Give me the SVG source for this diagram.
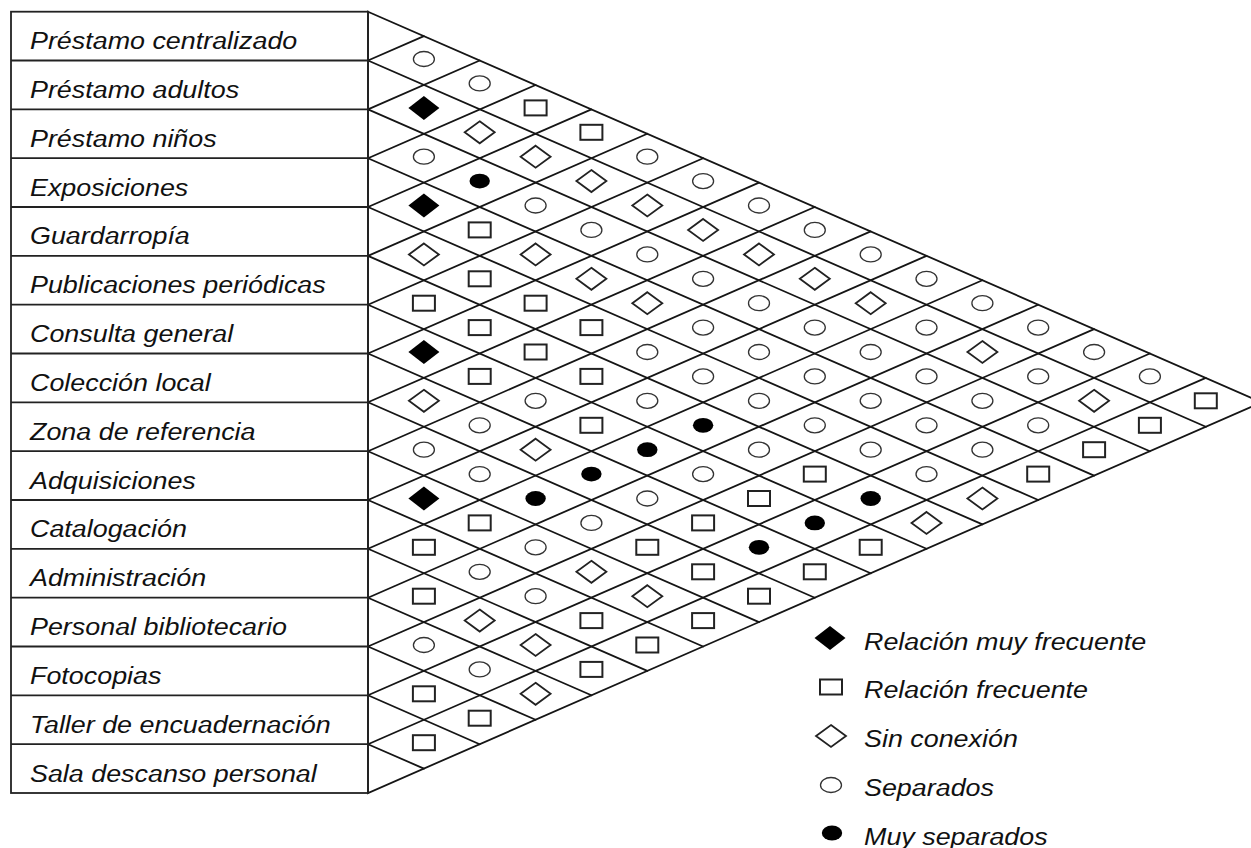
<svg xmlns="http://www.w3.org/2000/svg" xmlns:xlink="http://www.w3.org/1999/xlink" width="1251" height="848" viewBox="0 0 1251 848">
<style>
.lbl{font-family:"Liberation Sans",Arial,sans-serif;font-style:italic;font-size:24px;fill:#111}
.grid{stroke:#151515;stroke-width:1.8;fill:none;stroke-linecap:round}
.tbl{stroke:#222;stroke-width:1.8;fill:none}
</style>
<defs>
<ellipse id="oc" cx="0" cy="0" rx="10.5" ry="7.5" fill="#fff" stroke="#333" stroke-width="1.3"/>
<ellipse id="fc" cx="0" cy="0" rx="10.2" ry="7.4" fill="#000"/>
<rect id="sq" x="-11" y="-7.5" width="22" height="15" fill="#fff" stroke="#222" stroke-width="2"/>
<polygon id="od" points="0,-11 15,0 0,11 -15,0" fill="#fff" stroke="#222" stroke-width="1.8"/>
<polygon id="fd" points="0,-12 15.5,0 0,12 -15.5,0" fill="#000"/>
</defs>
<rect width="1251" height="848" fill="#fff"/>

<g id="connectors" class="grid">
<polygon points="368,11.7 1261.6,402.3 368,793"/>
<path d="M368,60.5L1205.8,426.8 M368,109.4L1149.9,451.2 M368,158.2L1094.1,475.6 M368,207L1038.2,500 M368,255.9L982.4,524.4 M368,304.7L926.5,548.8 M368,353.5L870.7,573.3 M368,402.3L814.8,597.7 M368,451.2L759,622.1 M368,500L703.1,646.5 M368,548.8L647.3,670.9 M368,597.7L591.4,695.3 M368,646.5L535.6,719.7 M368,695.3L479.7,744.2 M368,744.2L423.9,768.6"/>
<path d="M368,60.5L423.9,36.1 M368,109.4L479.7,60.5 M368,158.2L535.6,85 M368,207L591.4,109.4 M368,255.9L647.3,133.8 M368,304.7L703.1,158.2 M368,353.5L759,182.6 M368,402.3L814.8,207 M368,451.2L870.7,231.4 M368,500L926.5,255.9 M368,548.8L982.4,280.3 M368,597.7L1038.2,304.7 M368,646.5L1094.1,329.1 M368,695.3L1149.9,353.5 M368,744.2L1205.8,377.9"/>
</g>

<g id="table">
<rect class="tbl" x="11" y="11.7" width="357" height="781.3"/>
<path class="tbl" d="M11,60.5H368 M11,109.4H368 M11,158.2H368 M11,207H368 M11,255.9H368 M11,304.7H368 M11,353.5H368 M11,402.3H368 M11,451.2H368 M11,500H368 M11,548.8H368 M11,597.7H368 M11,646.5H368 M11,695.3H368 M11,744.2H368"/>
</g>

<g id="labels" transform="translate(30,0) scale(1.12,1)">
<g id="row-0"><text class="lbl" x="0" y="49.2">Préstamo centralizado</text></g>
<g id="row-1"><text class="lbl" x="0" y="98">Préstamo adultos</text></g>
<g id="row-2"><text class="lbl" x="0" y="146.9">Préstamo niños</text></g>
<g id="row-3"><text class="lbl" x="0" y="195.7">Exposiciones</text></g>
<g id="row-4"><text class="lbl" x="0" y="244.5">Guardarropía</text></g>
<g id="row-5"><text class="lbl" x="0" y="293.4">Publicaciones periódicas</text></g>
<g id="row-6"><text class="lbl" x="0" y="342.2">Consulta general</text></g>
<g id="row-7"><text class="lbl" x="0" y="391">Colección local</text></g>
<g id="row-8"><text class="lbl" x="0" y="439.9">Zona de referencia</text></g>
<g id="row-9"><text class="lbl" x="0" y="488.7">Adquisiciones</text></g>
<g id="row-10"><text class="lbl" x="0" y="537.5">Catalogación</text></g>
<g id="row-11"><text class="lbl" x="0" y="586.3">Administración</text></g>
<g id="row-12"><text class="lbl" x="0" y="635.2">Personal bibliotecario</text></g>
<g id="row-13"><text class="lbl" x="0" y="684">Fotocopias</text></g>
<g id="row-14"><text class="lbl" x="0" y="732.8">Taller de encuadernación</text></g>
<g id="row-15"><text class="lbl" x="0" y="781.7">Sala descanso personal</text></g>
</g>

<g id="cells">
<use href="#oc" x="423.9" y="59"/>
<use href="#oc" x="479.7" y="83.4"/>
<use href="#sq" x="535.6" y="107.9"/>
<use href="#sq" x="591.4" y="132.3"/>
<use href="#oc" x="647.3" y="156.7"/>
<use href="#oc" x="703.1" y="181.1"/>
<use href="#oc" x="759" y="205.5"/>
<use href="#oc" x="814.8" y="229.9"/>
<use href="#oc" x="870.7" y="254.4"/>
<use href="#oc" x="926.5" y="278.8"/>
<use href="#oc" x="982.4" y="303.2"/>
<use href="#oc" x="1038.2" y="327.6"/>
<use href="#oc" x="1094.1" y="352"/>
<use href="#oc" x="1149.9" y="376.4"/>
<use href="#sq" x="1205.8" y="400.8"/>

<use href="#fd" x="423.9" y="107.9"/>
<use href="#od" x="479.7" y="132.3"/>
<use href="#od" x="535.6" y="156.7"/>
<use href="#od" x="591.4" y="181.1"/>
<use href="#od" x="647.3" y="205.5"/>
<use href="#od" x="703.1" y="229.9"/>
<use href="#od" x="759" y="254.4"/>
<use href="#od" x="814.8" y="278.8"/>
<use href="#od" x="870.7" y="303.2"/>
<use href="#oc" x="926.5" y="327.6"/>
<use href="#od" x="982.4" y="352"/>
<use href="#oc" x="1038.2" y="376.4"/>
<use href="#od" x="1094.1" y="400.8"/>
<use href="#sq" x="1149.9" y="425.3"/>

<use href="#oc" x="423.9" y="156.7"/>
<use href="#fc" x="479.7" y="181.1"/>
<use href="#oc" x="535.6" y="205.5"/>
<use href="#oc" x="591.4" y="229.9"/>
<use href="#oc" x="647.3" y="254.4"/>
<use href="#oc" x="703.1" y="278.8"/>
<use href="#oc" x="759" y="303.2"/>
<use href="#oc" x="814.8" y="327.6"/>
<use href="#oc" x="870.7" y="352"/>
<use href="#oc" x="926.5" y="376.4"/>
<use href="#oc" x="982.4" y="400.8"/>
<use href="#oc" x="1038.2" y="425.3"/>
<use href="#sq" x="1094.1" y="449.7"/>

<use href="#fd" x="423.9" y="205.5"/>
<use href="#sq" x="479.7" y="229.9"/>
<use href="#od" x="535.6" y="254.4"/>
<use href="#od" x="591.4" y="278.8"/>
<use href="#od" x="647.3" y="303.2"/>
<use href="#oc" x="703.1" y="327.6"/>
<use href="#oc" x="759" y="352"/>
<use href="#oc" x="814.8" y="376.4"/>
<use href="#oc" x="870.7" y="400.8"/>
<use href="#oc" x="926.5" y="425.3"/>
<use href="#oc" x="982.4" y="449.7"/>
<use href="#sq" x="1038.2" y="474.1"/>

<use href="#od" x="423.9" y="254.4"/>
<use href="#sq" x="479.7" y="278.8"/>
<use href="#sq" x="535.6" y="303.2"/>
<use href="#sq" x="591.4" y="327.6"/>
<use href="#oc" x="647.3" y="352"/>
<use href="#oc" x="703.1" y="376.4"/>
<use href="#oc" x="759" y="400.8"/>
<use href="#oc" x="814.8" y="425.3"/>
<use href="#oc" x="870.7" y="449.7"/>
<use href="#oc" x="926.5" y="474.1"/>
<use href="#od" x="982.4" y="498.5"/>

<use href="#sq" x="423.9" y="303.2"/>
<use href="#sq" x="479.7" y="327.6"/>
<use href="#sq" x="535.6" y="352"/>
<use href="#sq" x="591.4" y="376.4"/>
<use href="#oc" x="647.3" y="400.8"/>
<use href="#fc" x="703.1" y="425.3"/>
<use href="#oc" x="759" y="449.7"/>
<use href="#sq" x="814.8" y="474.1"/>
<use href="#fc" x="870.7" y="498.5"/>
<use href="#od" x="926.5" y="522.9"/>

<use href="#fd" x="423.9" y="352"/>
<use href="#sq" x="479.7" y="376.4"/>
<use href="#oc" x="535.6" y="400.8"/>
<use href="#sq" x="591.4" y="425.3"/>
<use href="#fc" x="647.3" y="449.7"/>
<use href="#oc" x="703.1" y="474.1"/>
<use href="#sq" x="759" y="498.5"/>
<use href="#fc" x="814.8" y="522.9"/>
<use href="#sq" x="870.7" y="547.3"/>

<use href="#od" x="423.9" y="400.8"/>
<use href="#oc" x="479.7" y="425.3"/>
<use href="#od" x="535.6" y="449.7"/>
<use href="#fc" x="591.4" y="474.1"/>
<use href="#oc" x="647.3" y="498.5"/>
<use href="#sq" x="703.1" y="522.9"/>
<use href="#fc" x="759" y="547.3"/>
<use href="#sq" x="814.8" y="571.8"/>

<use href="#oc" x="423.9" y="449.7"/>
<use href="#oc" x="479.7" y="474.1"/>
<use href="#fc" x="535.6" y="498.5"/>
<use href="#oc" x="591.4" y="522.9"/>
<use href="#sq" x="647.3" y="547.3"/>
<use href="#sq" x="703.1" y="571.8"/>
<use href="#sq" x="759" y="596.2"/>

<use href="#fd" x="423.9" y="498.5"/>
<use href="#sq" x="479.7" y="522.9"/>
<use href="#oc" x="535.6" y="547.3"/>
<use href="#od" x="591.4" y="571.8"/>
<use href="#od" x="647.3" y="596.2"/>
<use href="#sq" x="703.1" y="620.6"/>

<use href="#sq" x="423.9" y="547.3"/>
<use href="#oc" x="479.7" y="571.8"/>
<use href="#oc" x="535.6" y="596.2"/>
<use href="#sq" x="591.4" y="620.6"/>
<use href="#sq" x="647.3" y="645"/>

<use href="#sq" x="423.9" y="596.2"/>
<use href="#od" x="479.7" y="620.6"/>
<use href="#od" x="535.6" y="645"/>
<use href="#sq" x="591.4" y="669.4"/>

<use href="#oc" x="423.9" y="645"/>
<use href="#oc" x="479.7" y="669.4"/>
<use href="#od" x="535.6" y="693.8"/>

<use href="#sq" x="423.9" y="693.8"/>
<use href="#sq" x="479.7" y="718.2"/>

<use href="#sq" x="423.9" y="742.7"/>
</g>

<g id="legend">
<use href="#fd" x="830" y="638"/>
<use href="#sq" x="831" y="687"/>
<use href="#od" x="831" y="736"/>
<use href="#oc" x="831" y="785"/>
<use href="#fc" x="832" y="833"/>
<g transform="translate(864,0) scale(1.12,1)">
<text class="lbl" x="0" y="650">Relación muy frecuente</text>
<text class="lbl" x="0" y="698">Relación frecuente</text>
<text class="lbl" x="0" y="747">Sin conexión</text>
<text class="lbl" x="0" y="796">Separados</text>
<text class="lbl" x="0" y="845">Muy separados</text>
</g>
</g>
</svg>
